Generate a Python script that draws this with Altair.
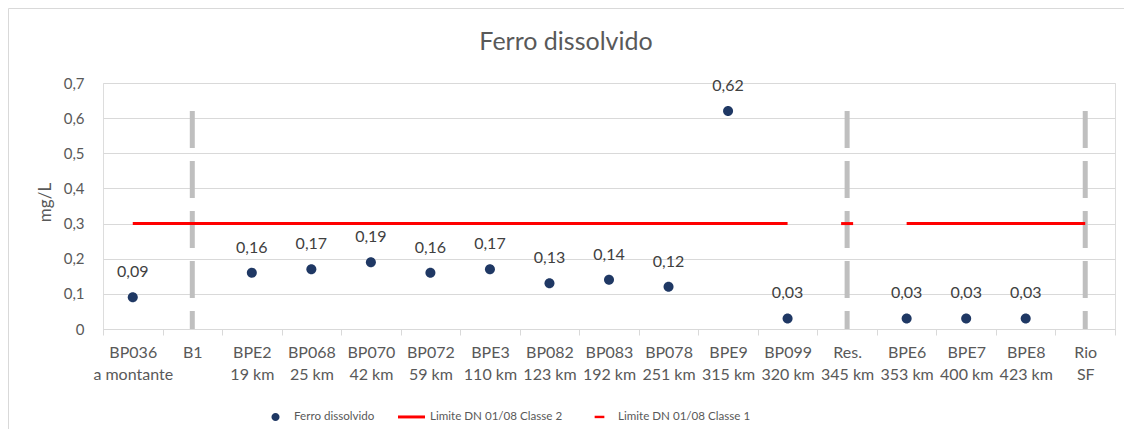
import altair as alt
import pandas as pd

# ---- data ----
stations = ["BP036", "B1", "BPE2", "BP068", "BP070", "BP072", "BPE3", "BP082", "BP083",
            "BP078", "BPE9", "BP099", "Res.", "BPE6", "BPE7", "BPE8", "Rio"]
sublabels = ["a montante", "", "19 km", "25 km", "42 km", "59 km", "110 km", "123 km", "192 km",
             "251 km", "315 km", "320 km", "345 km", "353 km", "400 km", "423 km", "SF"]
ferro = [0.09, None, 0.16, 0.17, 0.19, 0.16, 0.17, 0.13, 0.14,
         0.12, 0.62, 0.03, None, 0.03, 0.03, 0.03, None]
classe2 = [0.3, 0.3, 0.3, 0.3, 0.3, 0.3, 0.3, 0.3, 0.3,
           0.3, 0.3, 0.3, None, 0.3, 0.3, 0.3, 0.3]
classe2_segment = [1, 1, 1, 1, 1, 1, 1, 1, 1, 1, 1, 1, None, 2, 2, 2, 2]
classe1 = [None, None, None, None, None, None, None, None, None,
           None, None, None, 0.3, None, None, None, None]
divider_stations = ["B1", "Res.", "Rio"]
divider_top = [0.62, 0.62, 0.62]

S_FERRO = "Ferro dissolvido"
S_C2 = "Limite DN 01/08 Classe 2"
S_C1 = "Limite DN 01/08 Classe 1"

cats = [f"{s}|{sub}" for s, sub in zip(stations, sublabels)]
cat_of = dict(zip(stations, cats))
divider_cats = [cat_of[s] for s in divider_stations]

FONT = "Lato"
GREY_TXT = "#595959"

pts_rows = []
for c, v in zip(cats, ferro):
    if v is not None:
        pts_rows.append({"cat": c, "value": v, "serie": S_FERRO})
for c, v in zip(cats, classe1):
    if v is not None:
        pts_rows.append({"cat": c, "value": v, "serie": S_C1})
pts_df = pd.DataFrame(pts_rows)

line_df = pd.DataFrame([{"cat": c, "value": v, "seg": s}
                        for c, v, s in zip(cats, classe2, classe2_segment) if v is not None])
lab_df = pd.DataFrame([{"cat": c, "value": v} for c, v in zip(cats, ferro) if v is not None])
div_df = pd.DataFrame({"cat": divider_cats, "top": divider_top})

W, H = 1012, 246

xscale = alt.Scale(type="band", domain=cats, paddingInner=0, paddingOuter=0)
yscale = alt.Scale(domain=[0, 0.7], nice=False, zero=True)

x_axis = alt.Axis(
    title=None, labelExpr="split(datum.label, '|')", labelAngle=0,
    labelFont=FONT, labelFontSize=16, labelColor=GREY_TXT, labelLineHeight=22,
    labelPadding=9, tickBand="extent", tickSize=6, tickColor="#d9d9d9",
    domainColor="#d9d9d9", grid=False, labelBaseline="top",
)
y_axis = alt.Axis(
    title="mg/L", values=[0, 0.1, 0.2, 0.3, 0.4, 0.5, 0.6, 0.7],
    labelExpr="datum.value == 0 ? '0' : replace(format(datum.value, '.1f'), '.', ',')",
    labelFont=FONT, labelFontSize=15, labelColor=GREY_TXT, labelPadding=19,
    domain=False, ticks=False, grid=True, gridColor="#d9d9d9",
    titleFont=FONT, titleFontSize=17, titleColor=GREY_TXT, titleFontWeight="normal",
    titleX=-58, titleY=119, titleBaseline="middle", titleAlign="center",
)

X = alt.X("cat:N", scale=xscale, axis=x_axis, sort=cats)

border = alt.Chart(pd.DataFrame({"a": [0]})).mark_rect(
    fill=None, stroke="#d9d9d9", strokeWidth=1
).encode(x=alt.value(-94.5), x2=alt.value(W + 300), y=alt.value(-74.5), y2=alt.value(H + 300))

dividers = alt.Chart(div_df).mark_rule(
    color="#bfbfbf", strokeWidth=5, strokeDash=[37, 13]
).encode(x=X, y=alt.Y("top:Q", scale=yscale, axis=y_axis), y2=alt.datum(0))

c2_line = alt.Chart(line_df).mark_line(color="#ff0000", strokeWidth=3).encode(
    x=X, y=alt.Y("value:Q", scale=yscale, axis=y_axis), detail="seg:N"
)

CIRCLE = "M-0.3,0A0.3,0.3 0 1,0 0.3,0A0.3,0.3 0 1,0 -0.3,0Z"
LINE = "M-1,-0.11H1V0.11H-1Z"
DASH = "M-0.36,-0.09H0.36V0.09H-0.36Z"

legend = alt.Legend(
    title=None, orient="none", legendX=159, legendY=320, direction="horizontal",
    labelFont=FONT, labelFontSize=11.6, labelColor=GREY_TXT, symbolSize=729,
    columnPadding=23, labelOffset=5, padding=0, symbolStrokeWidth=0,
)

points = alt.Chart(pts_df).mark_point(filled=True, size=1111, opacity=1).encode(
    x=X,
    y=alt.Y("value:Q", scale=yscale, axis=y_axis),
    color=alt.Color("serie:N", scale=alt.Scale(domain=[S_FERRO, S_C2, S_C1],
                                               range=["#1f3864", "#ff0000", "#ff0000"]),
                    legend=legend),
    shape=alt.Shape("serie:N", scale=alt.Scale(domain=[S_FERRO, S_C2, S_C1],
                                               range=[CIRCLE, LINE, DASH]),
                    legend=legend),
)

labels = alt.Chart(lab_df).transform_calculate(
    txt="replace(format(datum.value, '.2f'), '.', ',')"
).mark_text(font=FONT, fontSize=16, color="#404040", dy=-25, baseline="middle").encode(
    x=X, y=alt.Y("value:Q", scale=yscale, axis=y_axis), text="txt:N"
)

chart = alt.layer(border, dividers, c2_line, points, labels).properties(
    width=W, height=H,
    title=alt.Title("Ferro dissolvido", font=FONT, fontSize=25, color=GREY_TXT,
                    fontWeight="normal", anchor="middle", dx=-43, offset=-67,
                    baseline="alphabetic"),
    autosize=alt.AutoSizeParams(type="none"),
    padding={"left": 95, "top": 75, "right": 9, "bottom": 100},
).configure_view(stroke=None).configure(background="white")

chart.save("out.html", embed_options={"renderer": "svg", "actions": False})
